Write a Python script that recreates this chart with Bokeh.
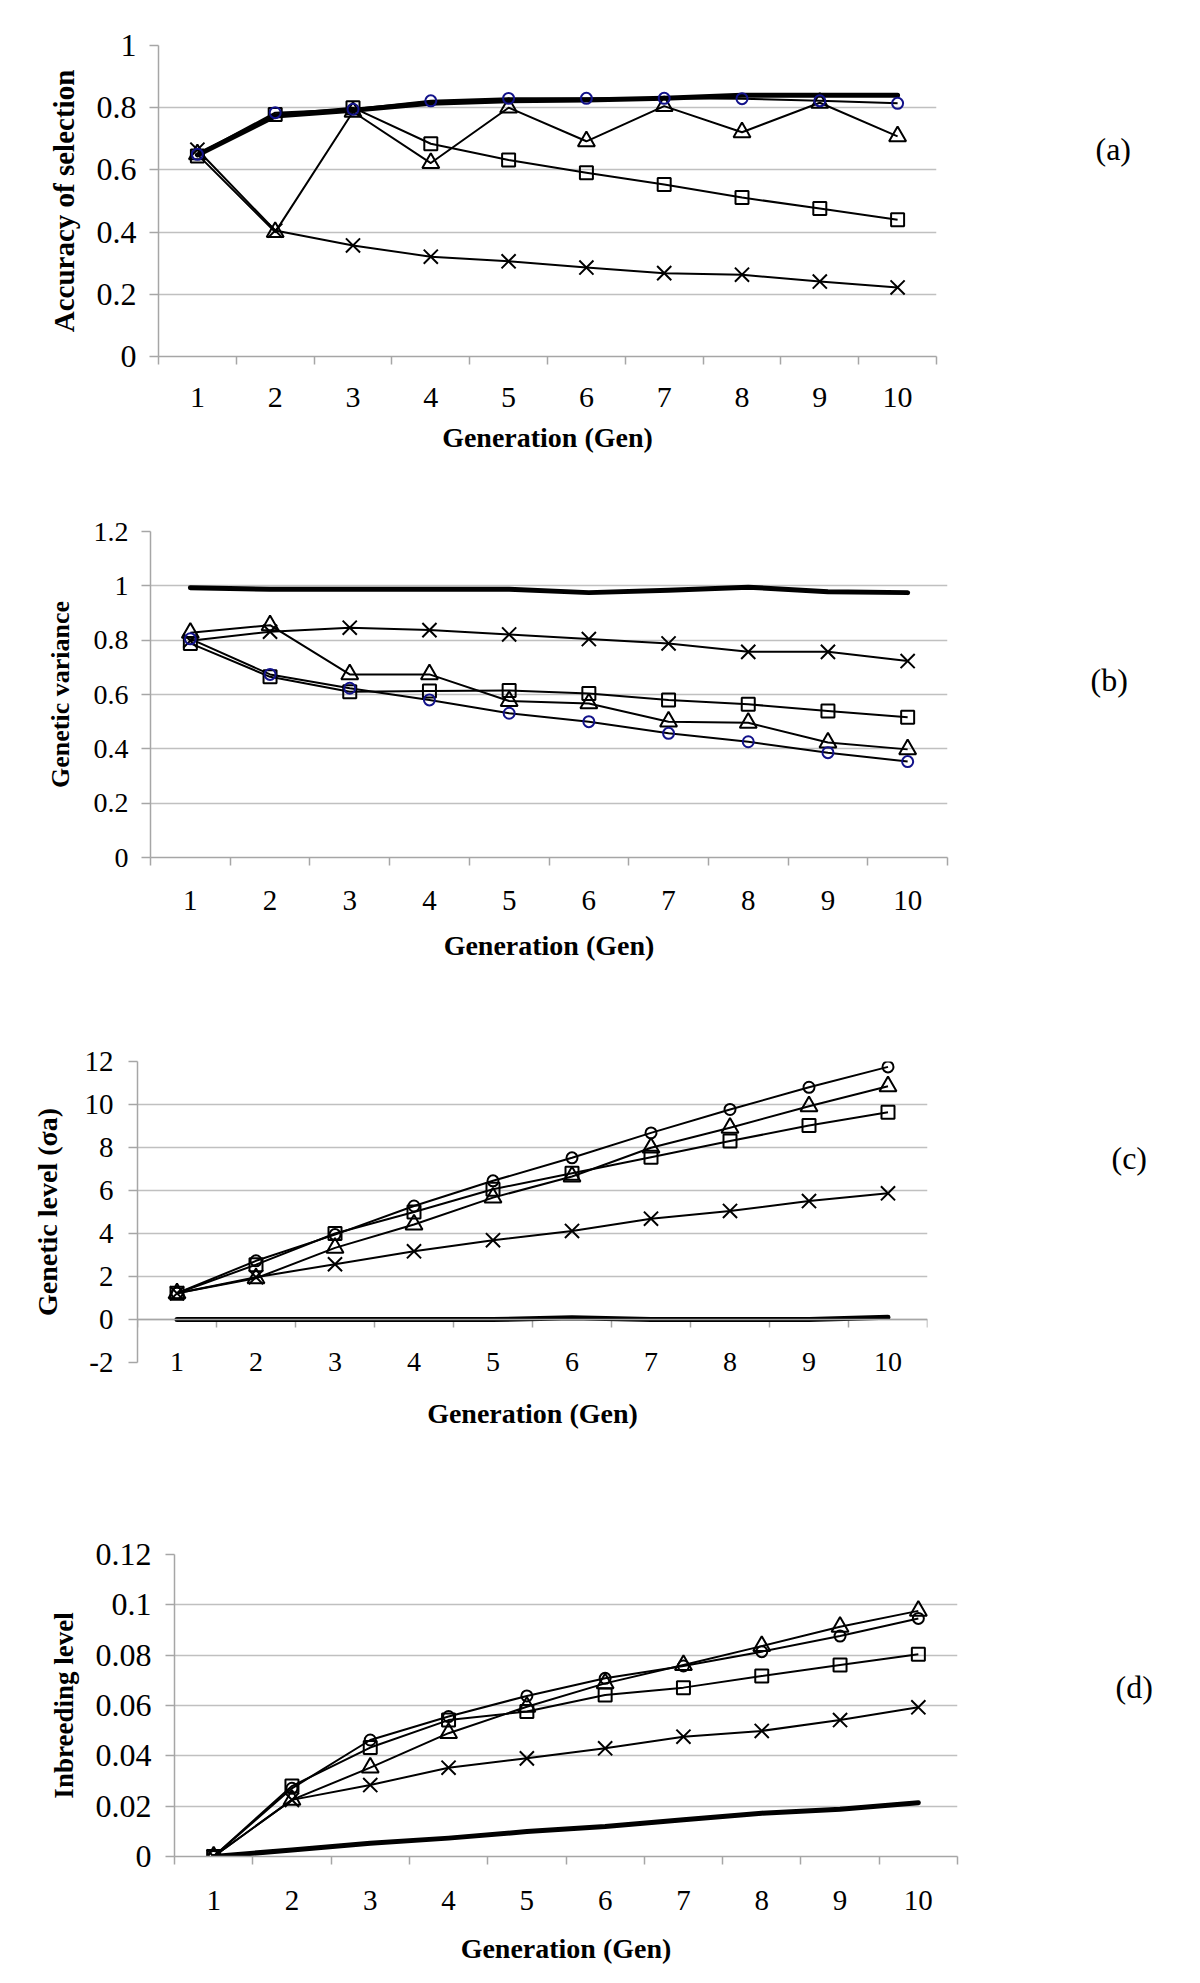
from bokeh.plotting import figure
from bokeh.models import FixedTicker, NumeralTickFormatter, Span, Range1d, LinearAxis, CustomJSTickFormatter
from bokeh.layouts import column
from bokeh.embed import file_html
from bokeh.resources import INLINE
import json

# ---------------- data ----------------
gens = [1, 2, 3, 4, 5, 6, 7, 8, 9, 10]
gen_bounds = [0.5, 1.5, 2.5, 3.5, 4.5, 5.5, 6.5, 7.5, 8.5, 9.5, 10.5]

# (a) Accuracy of selection
acc_thick = [0.648, 0.773, 0.792, 0.814, 0.822, 0.825, 0.830, 0.840, 0.840, 0.840]
acc_circle = [0.650, 0.784, 0.795, 0.822, 0.830, 0.830, 0.830, 0.829, 0.822, 0.814]
acc_triangle = [0.650, 0.400, 0.787, 0.622, 0.800, 0.692, 0.805, 0.721, 0.816, 0.708]
acc_square = [0.645, 0.778, 0.800, 0.684, 0.632, 0.591, 0.553, 0.511, 0.476, 0.440]
acc_cross = [0.665, 0.405, 0.357, 0.321, 0.306, 0.286, 0.268, 0.263, 0.241, 0.222]
a_yticks = [0, 0.2, 0.4, 0.6, 0.8, 1.0]

# (b) Genetic variance
var_thick = [0.993, 0.987, 0.987, 0.987, 0.987, 0.975, 0.984, 0.995, 0.978, 0.975]
var_circle = [0.805, 0.674, 0.623, 0.580, 0.531, 0.500, 0.457, 0.426, 0.386, 0.353]
var_triangle = [0.827, 0.855, 0.674, 0.674, 0.576, 0.567, 0.500, 0.496, 0.423, 0.398]
var_square = [0.788, 0.665, 0.610, 0.613, 0.615, 0.604, 0.580, 0.564, 0.539, 0.516]
var_cross = [0.798, 0.831, 0.846, 0.837, 0.821, 0.804, 0.788, 0.757, 0.757, 0.723]
b_yticks = [0, 0.2, 0.4, 0.6, 0.8, 1.0, 1.2]

# (c) Genetic level
lev_thick = [0.0, 0.0, 0.0, 0.0, 0.0, 0.08, 0.0, 0.0, 0.0, 0.1]
lev_circle = [1.22, 2.73, 3.95, 5.28, 6.45, 7.52, 8.68, 9.77, 10.80, 11.75]
lev_triangle = [1.22, 1.92, 3.33, 4.42, 5.67, 6.65, 7.99, 8.92, 9.92, 10.85]
lev_square = [1.22, 2.55, 4.00, 5.00, 6.06, 6.80, 7.55, 8.30, 9.02, 9.64]
lev_cross = [1.22, 1.97, 2.57, 3.17, 3.69, 4.12, 4.69, 5.05, 5.51, 5.87]
c_yticks = [-2, 0, 2, 4, 6, 8, 10, 12]

# (d) Inbreeding level
inb_thick = [0.0, 0.0026, 0.0053, 0.0073, 0.0099, 0.0119, 0.0146, 0.0172, 0.0188, 0.0214]
inb_circle = [0.0, 0.0271, 0.0463, 0.0556, 0.0638, 0.0708, 0.0757, 0.0814, 0.0876, 0.0946]
inb_triangle = [0.0, 0.0225, 0.0353, 0.0490, 0.0595, 0.0688, 0.0761, 0.0836, 0.0913, 0.0976]
inb_square = [0.0, 0.0280, 0.0433, 0.0542, 0.0576, 0.0642, 0.0671, 0.0717, 0.0761, 0.0804]
inb_cross = [0.0, 0.0225, 0.0284, 0.0353, 0.0390, 0.0430, 0.0476, 0.0499, 0.0542, 0.0593]
d_yticks = [0, 0.02, 0.04, 0.06, 0.08, 0.10, 0.12]

x_title = "Generation (Gen)"

# ---------------- style ----------------
FONT = "Liberation Serif"
GRID = "#c0c0c0"
AXIS = "#a6a6a6"
NAVY = "#12128a"
PAGE_W = 1200

panels = [
    dict(tag="(a)", ytitle="Accuracy of selection", yr=(0, 1.0), yticks=a_yticks,
         thick=acc_thick, circle=acc_circle, triangle=acc_triangle, square=acc_square, cross=acc_cross,
         circle_color=NAVY,
         h=490, left=158, fw=778, top=45, fh=311,
         ytick_fs=32, ytick_so=13, ytitle_fs=29, ytitle_so=14,
         xtick_fs=30, xtick_so=23, xtitle_fs=28, xtitle_so=12,
         tag_y=148, tag_so=159, page_top=0, axis_at_zero=False),
    dict(tag="(b)", ytitle="Genetic variance", yr=(0, 1.2), yticks=b_yticks,
         thick=var_thick, circle=var_circle, triangle=var_triangle, square=var_square, cross=var_cross,
         circle_color=NAVY,
         h=520, left=150, fw=797, top=41, fh=326,
         ytick_fs=28, ytick_so=13, ytitle_fs=26, ytitle_so=16,
         xtick_fs=29, xtick_so=25, xtitle_fs=28, xtitle_so=17,
         tag_y=679, tag_so=143, page_top=490, axis_at_zero=False),
    dict(tag="(c)", ytitle="Genetic level (σa)", yr=(-2, 12), yticks=c_yticks,
         thick=lev_thick, circle=lev_circle, triangle=lev_triangle, square=lev_square, cross=lev_cross,
         circle_color="black",
         h=470, left=137, fw=790, top=51, fh=301,
         ytick_fs=29, ytick_so=15, ytitle_fs=28, ytitle_so=19,
         xtick_fs=28, xtick_so=-14, xtitle_fs=28, xtitle_so=24,
         tag_y=1158, tag_so=184, page_top=1010, axis_at_zero=True),
    dict(tag="(d)", ytitle="Inbreeding level", yr=(0, 0.12), yticks=d_yticks,
         thick=inb_thick, circle=inb_circle, triangle=inb_triangle, square=inb_square, cross=inb_cross,
         circle_color="black",
         h=503, left=174, fw=783, top=74, fh=302,
         ytick_fs=32, ytick_so=14, ytitle_fs=27, ytitle_so=14,
         xtick_fs=29, xtick_so=26, xtitle_fs=28, xtitle_so=20,
         tag_y=1687, tag_so=158, page_top=1480, axis_at_zero=False),
]


def make_panel(c):
    ymin, ymax = c["yr"]
    p = figure(frame_width=c["fw"], frame_height=c["fh"],
               min_border_left=c["left"], min_border_right=PAGE_W - c["left"] - c["fw"],
               min_border_top=c["top"], min_border_bottom=c["h"] - c["top"] - c["fh"],
               x_range=Range1d(0.5, 10.5), y_range=Range1d(ymin, ymax),
               output_backend="svg", toolbar_location=None, frame_align=False)
    p.outline_line_color = None
    p.background_fill_color = "white"
    p.border_fill_color = "white"

    # grid
    p.xgrid.visible = False
    p.ygrid.ticker = FixedTicker(ticks=c["yticks"])
    p.ygrid.grid_line_color = GRID
    p.ygrid.grid_line_width = 1.5

    # y axis
    ya = p.yaxis[0]
    ya.ticker = FixedTicker(ticks=c["yticks"])
    ya.formatter = NumeralTickFormatter(format="0.[00]")
    ya.axis_line_color = AXIS
    ya.axis_line_width = 1.5
    ya.major_tick_line_color = AXIS
    ya.major_tick_line_width = 1.5
    ya.major_tick_out = 9
    ya.major_tick_in = 0
    ya.minor_tick_line_color = None
    ya.major_label_text_font = FONT
    ya.major_label_text_font_size = f"{c['ytick_fs']}px"
    ya.major_label_text_color = "black"
    ya.major_label_standoff = c["ytick_so"]
    ya.axis_label = c["ytitle"]
    ya.axis_label_text_font = FONT
    ya.axis_label_text_font_style = "bold"
    ya.axis_label_text_font_size = f"{c['ytitle_fs']}px"
    ya.axis_label_text_color = "black"
    ya.axis_label_standoff = c["ytitle_so"]

    # x axis
    xa = p.xaxis[0]
    xa.ticker = FixedTicker(ticks=gens, minor_ticks=gen_bounds)
    xa.major_tick_out = 0
    xa.major_tick_in = 0
    xa.major_tick_line_color = None
    xa.major_label_text_font = FONT
    xa.major_label_text_font_size = f"{c['xtick_fs']}px"
    xa.major_label_text_color = "black"
    xa.major_label_standoff = c["xtick_so"]
    xa.axis_label = x_title
    xa.axis_label_text_font = FONT
    xa.axis_label_text_font_style = "bold"
    xa.axis_label_text_font_size = f"{c['xtitle_fs']}px"
    xa.axis_label_text_color = "black"
    xa.axis_label_standoff = c["xtitle_so"]
    if c["axis_at_zero"]:
        xa.axis_line_color = None
        xa.minor_tick_line_color = None
        p.add_layout(Span(location=0, dimension="width", line_color=AXIS, line_width=1.5))
        px_per_unit = c["fh"] / (ymax - ymin)
        tick_len = 8 / px_per_unit
        p.segment(x0=gen_bounds, y0=[0] * len(gen_bounds), x1=gen_bounds,
                  y1=[-tick_len] * len(gen_bounds), line_color=AXIS, line_width=1.5)
    else:
        xa.axis_line_color = AXIS
        xa.axis_line_width = 1.5
        xa.minor_tick_line_color = AXIS
        xa.minor_tick_line_width = 1.5
        xa.minor_tick_out = 8
        xa.minor_tick_in = 0

    # panel tag as a label-only axis on the right
    tag_val = round(ymax - (c["tag_y"] - c["page_top"] - c["top"]) / c["fh"] * (ymax - ymin), 4)
    ra = LinearAxis(ticker=FixedTicker(ticks=[tag_val]),
                    formatter=CustomJSTickFormatter(code="return %s;" % json.dumps(c["tag"])))
    ra.axis_line_color = None
    ra.major_tick_line_color = None
    ra.minor_tick_line_color = None
    ra.major_tick_out = 0
    ra.major_tick_in = 0
    ra.major_label_standoff = c["tag_so"]
    ra.major_label_text_font = FONT
    ra.major_label_text_font_size = "32px"
    ra.major_label_text_color = "black"
    p.add_layout(ra, "right")

    # series
    p.line(gens, c["thick"], line_color="black", line_width=5, line_join="round", line_cap="round")
    for key in ["cross", "square", "triangle", "circle"]:
        p.line(gens, c[key], line_color="black", line_width=2, line_join="round")
    p.scatter(gens, c["cross"], marker="x", size=20, line_color="black", line_width=2)
    p.scatter(gens, c["square"], marker="square", size=13, line_color="black", line_width=2, fill_color=None)
    p.scatter(gens, c["triangle"], marker="triangle", size=17, line_color="black", line_width=2, fill_color=None)
    p.scatter(gens, c["circle"], marker="circle", size=11, line_color=c["circle_color"], line_width=2, fill_color=None)
    return p


figs = [make_panel(c) for c in panels]
layout = column(*figs, spacing=0)
open("out.html", "w").write(file_html(layout, INLINE))
